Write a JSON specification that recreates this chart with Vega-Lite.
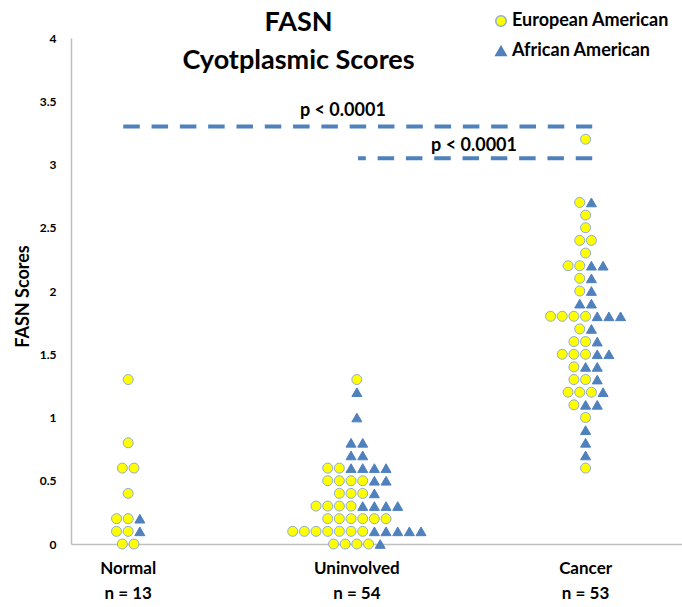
{
  "$schema": "https://vega.github.io/schema/vega-lite/v6.json",
  "autosize": "none",
  "width": 611,
  "height": 506,
  "padding": {"left": 71, "top": 38, "right": 0, "bottom": 63},
  "background": "white",
  "config": {"view": {"stroke": null}, "font": "Lato"},
  "title": {
    "text": ["FASN", "Cyotplasmic Scores"],
    "font": "Lato",
    "fontSize": 27,
    "fontWeight": "bold",
    "color": "black",
    "anchor": "middle",
    "frame": "group",
    "dx": -78,
    "lineHeight": 38,
    "offset": -63
  },
  "datasets": {
    "points": [
      {"group": "Normal", "race": "European American", "score": 1.3, "slot": 0},
      {"group": "Normal", "race": "European American", "score": 0.8, "slot": 0},
      {"group": "Normal", "race": "European American", "score": 0.6, "slot": -0.5},
      {"group": "Normal", "race": "European American", "score": 0.6, "slot": 0.5},
      {"group": "Normal", "race": "European American", "score": 0.4, "slot": 0},
      {"group": "Normal", "race": "European American", "score": 0.2, "slot": -1},
      {"group": "Normal", "race": "European American", "score": 0.2, "slot": 0},
      {"group": "Normal", "race": "European American", "score": 0.1, "slot": -1},
      {"group": "Normal", "race": "European American", "score": 0.1, "slot": 0},
      {"group": "Normal", "race": "European American", "score": 0, "slot": -0.5},
      {"group": "Normal", "race": "European American", "score": 0, "slot": 0.5},
      {"group": "Normal", "race": "African American", "score": 0.2, "slot": 1},
      {"group": "Normal", "race": "African American", "score": 0.1, "slot": 1},

      {"group": "Uninvolved", "race": "European American", "score": 1.3, "slot": 0},
      {"group": "Uninvolved", "race": "European American", "score": 0.6, "slot": -2.5},
      {"group": "Uninvolved", "race": "European American", "score": 0.6, "slot": -1.5},
      {"group": "Uninvolved", "race": "European American", "score": 0.5, "slot": -2.5},
      {"group": "Uninvolved", "race": "European American", "score": 0.5, "slot": -1.5},
      {"group": "Uninvolved", "race": "European American", "score": 0.5, "slot": -0.5},
      {"group": "Uninvolved", "race": "European American", "score": 0.5, "slot": 0.5},
      {"group": "Uninvolved", "race": "European American", "score": 0.4, "slot": -1.5},
      {"group": "Uninvolved", "race": "European American", "score": 0.4, "slot": -0.5},
      {"group": "Uninvolved", "race": "European American", "score": 0.4, "slot": 0.5},
      {"group": "Uninvolved", "race": "European American", "score": 0.3, "slot": -3.5},
      {"group": "Uninvolved", "race": "European American", "score": 0.3, "slot": -2.5},
      {"group": "Uninvolved", "race": "European American", "score": 0.3, "slot": -1.5},
      {"group": "Uninvolved", "race": "European American", "score": 0.3, "slot": -0.5},
      {"group": "Uninvolved", "race": "European American", "score": 0.2, "slot": -2.5},
      {"group": "Uninvolved", "race": "European American", "score": 0.2, "slot": -1.5},
      {"group": "Uninvolved", "race": "European American", "score": 0.2, "slot": -0.5},
      {"group": "Uninvolved", "race": "European American", "score": 0.2, "slot": 0.5},
      {"group": "Uninvolved", "race": "European American", "score": 0.2, "slot": 1.5},
      {"group": "Uninvolved", "race": "European American", "score": 0.2, "slot": 2.5},
      {"group": "Uninvolved", "race": "European American", "score": 0.1, "slot": -5.5},
      {"group": "Uninvolved", "race": "European American", "score": 0.1, "slot": -4.5},
      {"group": "Uninvolved", "race": "European American", "score": 0.1, "slot": -3.5},
      {"group": "Uninvolved", "race": "European American", "score": 0.1, "slot": -2.5},
      {"group": "Uninvolved", "race": "European American", "score": 0.1, "slot": -1.5},
      {"group": "Uninvolved", "race": "European American", "score": 0.1, "slot": -0.5},
      {"group": "Uninvolved", "race": "European American", "score": 0.1, "slot": 0.5},
      {"group": "Uninvolved", "race": "European American", "score": 0, "slot": -2},
      {"group": "Uninvolved", "race": "European American", "score": 0, "slot": -1},
      {"group": "Uninvolved", "race": "European American", "score": 0, "slot": 0},
      {"group": "Uninvolved", "race": "European American", "score": 0, "slot": 1},
      {"group": "Uninvolved", "race": "African American", "score": 1.2, "slot": 0},
      {"group": "Uninvolved", "race": "African American", "score": 1.0, "slot": 0},
      {"group": "Uninvolved", "race": "African American", "score": 0.8, "slot": -0.5},
      {"group": "Uninvolved", "race": "African American", "score": 0.8, "slot": 0.5},
      {"group": "Uninvolved", "race": "African American", "score": 0.7, "slot": -0.5},
      {"group": "Uninvolved", "race": "African American", "score": 0.7, "slot": 0.5},
      {"group": "Uninvolved", "race": "African American", "score": 0.6, "slot": -0.5},
      {"group": "Uninvolved", "race": "African American", "score": 0.6, "slot": 0.5},
      {"group": "Uninvolved", "race": "African American", "score": 0.6, "slot": 1.5},
      {"group": "Uninvolved", "race": "African American", "score": 0.6, "slot": 2.5},
      {"group": "Uninvolved", "race": "African American", "score": 0.5, "slot": 1.5},
      {"group": "Uninvolved", "race": "African American", "score": 0.5, "slot": 2.5},
      {"group": "Uninvolved", "race": "African American", "score": 0.4, "slot": 1.5},
      {"group": "Uninvolved", "race": "African American", "score": 0.3, "slot": 0.5},
      {"group": "Uninvolved", "race": "African American", "score": 0.3, "slot": 1.5},
      {"group": "Uninvolved", "race": "African American", "score": 0.3, "slot": 2.5},
      {"group": "Uninvolved", "race": "African American", "score": 0.3, "slot": 3.5},
      {"group": "Uninvolved", "race": "African American", "score": 0.1, "slot": 1.5},
      {"group": "Uninvolved", "race": "African American", "score": 0.1, "slot": 2.5},
      {"group": "Uninvolved", "race": "African American", "score": 0.1, "slot": 3.5},
      {"group": "Uninvolved", "race": "African American", "score": 0.1, "slot": 4.5},
      {"group": "Uninvolved", "race": "African American", "score": 0.1, "slot": 5.5},
      {"group": "Uninvolved", "race": "African American", "score": 0, "slot": 2},

      {"group": "Cancer", "race": "European American", "score": 3.2, "slot": 0},
      {"group": "Cancer", "race": "European American", "score": 2.7, "slot": -0.5},
      {"group": "Cancer", "race": "European American", "score": 2.6, "slot": 0},
      {"group": "Cancer", "race": "European American", "score": 2.5, "slot": 0},
      {"group": "Cancer", "race": "European American", "score": 2.4, "slot": -0.5},
      {"group": "Cancer", "race": "European American", "score": 2.4, "slot": 0.5},
      {"group": "Cancer", "race": "European American", "score": 2.3, "slot": 0},
      {"group": "Cancer", "race": "European American", "score": 2.2, "slot": -1.5},
      {"group": "Cancer", "race": "European American", "score": 2.2, "slot": -0.5},
      {"group": "Cancer", "race": "European American", "score": 2.1, "slot": -0.5},
      {"group": "Cancer", "race": "European American", "score": 2.0, "slot": -0.5},
      {"group": "Cancer", "race": "European American", "score": 1.8, "slot": -3},
      {"group": "Cancer", "race": "European American", "score": 1.8, "slot": -2},
      {"group": "Cancer", "race": "European American", "score": 1.8, "slot": -1},
      {"group": "Cancer", "race": "European American", "score": 1.8, "slot": 0},
      {"group": "Cancer", "race": "European American", "score": 1.7, "slot": -0.5},
      {"group": "Cancer", "race": "European American", "score": 1.6, "slot": -1},
      {"group": "Cancer", "race": "European American", "score": 1.6, "slot": 0},
      {"group": "Cancer", "race": "European American", "score": 1.5, "slot": -2},
      {"group": "Cancer", "race": "European American", "score": 1.5, "slot": -1},
      {"group": "Cancer", "race": "European American", "score": 1.5, "slot": 0},
      {"group": "Cancer", "race": "European American", "score": 1.4, "slot": -1},
      {"group": "Cancer", "race": "European American", "score": 1.3, "slot": -1},
      {"group": "Cancer", "race": "European American", "score": 1.3, "slot": 0},
      {"group": "Cancer", "race": "European American", "score": 1.2, "slot": -1.5},
      {"group": "Cancer", "race": "European American", "score": 1.2, "slot": -0.5},
      {"group": "Cancer", "race": "European American", "score": 1.2, "slot": 0.5},
      {"group": "Cancer", "race": "European American", "score": 1.1, "slot": -1},
      {"group": "Cancer", "race": "European American", "score": 1.0, "slot": 0},
      {"group": "Cancer", "race": "European American", "score": 0.6, "slot": 0},
      {"group": "Cancer", "race": "African American", "score": 2.7, "slot": 0.5},
      {"group": "Cancer", "race": "African American", "score": 2.2, "slot": 0.5},
      {"group": "Cancer", "race": "African American", "score": 2.2, "slot": 1.5},
      {"group": "Cancer", "race": "African American", "score": 2.1, "slot": 0.5},
      {"group": "Cancer", "race": "African American", "score": 2.0, "slot": 0.5},
      {"group": "Cancer", "race": "African American", "score": 1.9, "slot": -0.5},
      {"group": "Cancer", "race": "African American", "score": 1.9, "slot": 0.5},
      {"group": "Cancer", "race": "African American", "score": 1.8, "slot": 1},
      {"group": "Cancer", "race": "African American", "score": 1.8, "slot": 2},
      {"group": "Cancer", "race": "African American", "score": 1.8, "slot": 3},
      {"group": "Cancer", "race": "African American", "score": 1.7, "slot": 0.5},
      {"group": "Cancer", "race": "African American", "score": 1.6, "slot": 1},
      {"group": "Cancer", "race": "African American", "score": 1.5, "slot": 1},
      {"group": "Cancer", "race": "African American", "score": 1.5, "slot": 2},
      {"group": "Cancer", "race": "African American", "score": 1.4, "slot": 0},
      {"group": "Cancer", "race": "African American", "score": 1.4, "slot": 1},
      {"group": "Cancer", "race": "African American", "score": 1.3, "slot": 1},
      {"group": "Cancer", "race": "African American", "score": 1.2, "slot": 1.5},
      {"group": "Cancer", "race": "African American", "score": 1.1, "slot": 0},
      {"group": "Cancer", "race": "African American", "score": 1.1, "slot": 1},
      {"group": "Cancer", "race": "African American", "score": 0.9, "slot": 0},
      {"group": "Cancer", "race": "African American", "score": 0.8, "slot": 0},
      {"group": "Cancer", "race": "African American", "score": 0.7, "slot": 0}
    ],
    "brackets": [
      {"bracket": "a", "group": "Normal", "slot": -0.42, "score": 3.3, "ord": 1},
      {"bracket": "a", "group": "Cancer", "slot": 0.57, "score": 3.3, "ord": 2},
      {"bracket": "b", "group": "Cancer", "slot": 0.57, "score": 3.05, "ord": 1},
      {"bracket": "b", "group": "Uninvolved", "slot": 0.1, "score": 3.05, "ord": 2}
    ],
    "pvalues": [
      {"group": "Uninvolved", "slot": -1.2, "score": 3.425, "label": "p < 0.0001"},
      {"group": "Cancer", "slot": -9.56, "score": 3.143, "label": "p < 0.0001"}
    ]
  },
  "encoding": {
    "x": {
      "field": "group",
      "type": "nominal",
      "sort": ["Normal", "Uninvolved", "Cancer"],
      "scale": {"domain": ["Normal", "Uninvolved", "Cancer"], "paddingInner": 0.5, "paddingOuter": 0.0858, "align": 0},
      "axis": {
        "title": null,
        "labelAngle": 0,
        "ticks": false,
        "grid": false,
        "domainColor": "#bfbfbf",
        "domainWidth": 1.5,
        "labelFont": "Lato",
        "labelFontSize": 17,
        "labelFontWeight": "bold",
        "labelColor": "black",
        "labelPadding": 16,
        "labelLineHeight": 25,
        "labelExpr": "datum.value == 'Normal' ? ['Normal', 'n = 13'] : datum.value == 'Uninvolved' ? ['Uninvolved', 'n =  54'] : ['Cancer', 'n = 53']"
      }
    },
    "xOffset": {
      "field": "slot",
      "type": "quantitative",
      "scale": {"domain": [-4.9, 4.9], "nice": false, "zero": false}
    },
    "y": {
      "field": "score",
      "type": "quantitative",
      "scale": {"domain": [0, 4], "nice": false},
      "axis": {
        "title": "FASN  Scores",
        "titleFont": "Lato",
        "titleFontSize": 18,
        "titleFontWeight": "bold",
        "titleColor": "black",
        "titleAngle": -90,
        "titleAlign": "center",
        "titleBaseline": "alphabetic",
        "titleX": -43,
        "titleY": 258,
        "values": [0, 0.5, 1, 1.5, 2, 2.5, 3, 3.5, 4],
        "format": "~g",
        "ticks": false,
        "grid": false,
        "domainColor": "#bfbfbf",
        "domainWidth": 1.5,
        "labelFont": "Lato",
        "labelFontSize": 12,
        "labelFontWeight": "bold",
        "labelColor": "black",
        "labelPadding": 15
      }
    }
  },
  "layer": [
    {
      "data": {"name": "brackets"},
      "mark": {"type": "line", "color": "#4f81bd", "strokeWidth": 4, "strokeDash": [16.5, 11.8], "strokeCap": "butt"},
      "encoding": {
        "detail": {"field": "bracket"},
        "order": {"field": "ord", "type": "quantitative"}
      }
    },
    {
      "data": {"name": "pvalues"},
      "mark": {"type": "text", "font": "Lato", "fontSize": 18, "fontWeight": "bold", "color": "black", "align": "center", "baseline": "middle"},
      "encoding": {"text": {"field": "label"}}
    },
    {
      "data": {"name": "points"},
      "mark": {"type": "point", "filled": true, "opacity": 1, "size": 100, "strokeWidth": 1},
      "encoding": {
        "shape": {
          "field": "race",
          "type": "nominal",
          "scale": {"domain": ["European American", "African American"], "range": ["circle", "triangle-up"]},
          "legend": {
            "title": null,
            "orient": "none",
            "legendX": 421,
            "legendY": -26,
            "labelFont": "Lato",
            "labelFontSize": 18,
            "labelFontWeight": "bold",
            "labelColor": "black",
            "labelOffset": 2,
            "rowPadding": 12,
            "symbolSize": 110
          }
        },
        "fill": {
          "field": "race",
          "type": "nominal",
          "scale": {"domain": ["European American", "African American"], "range": ["#ffff00", "#4f81bd"]}
        },
        "stroke": {
          "field": "race",
          "type": "nominal",
          "scale": {"domain": ["European American", "African American"], "range": ["#8eaadb", "#4f81bd"]}
        }
      }
    }
  ]
}
